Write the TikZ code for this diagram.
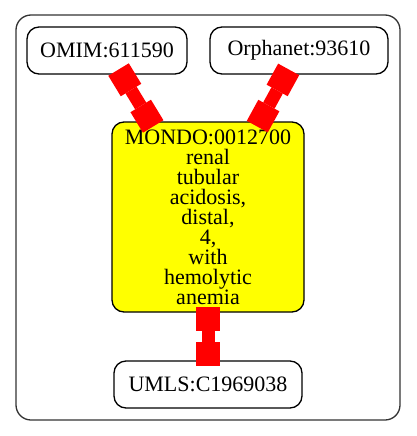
\documentclass[tikz,border=0pt]{standalone}
\usepackage{fontspec}
\setmainfont{Liberation Serif}
\usepackage{tikz}
\usetikzlibrary{arrows.meta}
\definecolor{gvred}{RGB}{255,0,0}
\definecolor{gvyellow}{RGB}{255,255,0}

\begin{document}
\begin{tikzpicture}[
  x=1pt, y=-1pt,
  every node/.style={font=\fontsize{22}{20}\selectfont},
  idbox/.style={
    rectangle, rounded corners=12pt,
    draw=black, fill=#1, line width=1.3pt,
    minimum height=47pt, inner sep=0pt, align=center},
  groupbox/.style={
    rounded corners=15pt, draw=black!80, line width=1.3pt},
  link/.style={
    draw=gvred, line width=13pt,
    {Square[length=24pt,width=24pt,line width=0pt]}-{Square[length=24pt,width=24pt,line width=0pt]},
    shorten <=-6pt, shorten >=-6pt}
]
\useasboundingbox (0,0) rectangle (416,436);

%% ── CLUSTER ──────────────────────────────────────────────
\draw[groupbox] (16,15) rectangle (400,420);

%% ── TOP ROW ──────────────────────────────────────────────
\node[idbox=white, minimum width=160pt] (omim)  at (107,50.5) {OMIM:611590};
\node[idbox=white, minimum width=178pt] (orpha) at (299,50.5) {Orphanet:93610};

%% ── MIDDLE ───────────────────────────────────────────────
\node[idbox=gvyellow, minimum width=192pt, minimum height=190pt] (mondo) at (208,217)
      {MONDO:0012700\\renal\\tubular\\acidosis,\\distal,\\4,\\with\\hemolytic\\anemia};

%% ── BOTTOM ───────────────────────────────────────────────
\node[idbox=white, minimum width=188pt] (umls) at (208,384.5) {UMLS:C1969038};

%% Links
\draw[link] (omim)  -- (mondo);
\draw[link] (orpha) -- (mondo);
\draw[link] (mondo) -- (umls);

\end{tikzpicture}
\end{document}
